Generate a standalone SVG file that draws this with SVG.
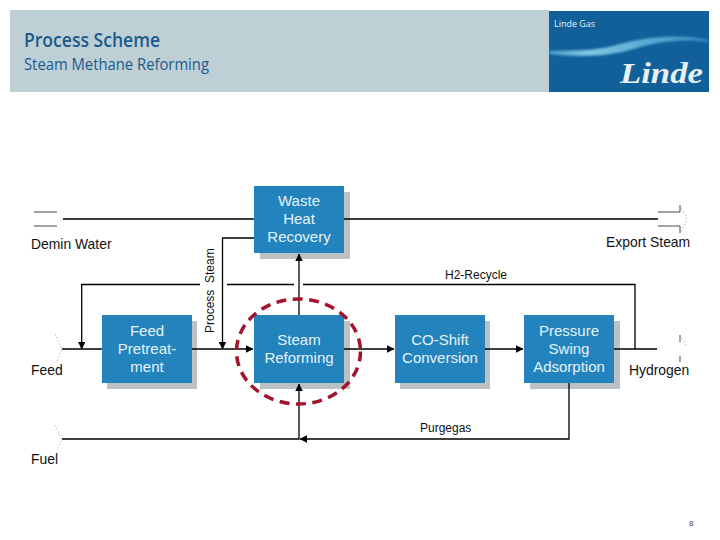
<svg xmlns="http://www.w3.org/2000/svg" width="720" height="540" viewBox="0 0 720 540">
<defs>
<linearGradient id="sw" x1="0" x2="1" y1="0" y2="0"><stop offset="0" stop-color="#5fb4dc" stop-opacity=".75"/><stop offset=".25" stop-color="#8fd2ec" stop-opacity=".9"/><stop offset=".6" stop-color="#6cbfe2" stop-opacity=".8"/><stop offset="1" stop-color="#3f96c8" stop-opacity=".8"/></linearGradient>
<marker id="a" viewBox="0 0 8 8" refX="7.5" refY="4" markerWidth="7.5" markerHeight="7.5" markerUnits="userSpaceOnUse" orient="auto"><path d="M0 0L8 4L0 8Z" fill="#000"/></marker>
<filter id="b" x="-10%" y="-100%" width="120%" height="300%"><feGaussianBlur stdDeviation="1.2"/></filter>
</defs>
<style>
.box{fill:#2384bd}
.sh{fill:#bcc1c5}
.bt{fill:#e6f2f8;font:15px "Liberation Sans",Arial,sans-serif;text-anchor:middle}
.lb{fill:#111;font:13.9px "Liberation Sans",Arial,sans-serif}
.sm{fill:#111;font:12px "Liberation Sans",Arial,sans-serif}
.l{fill:none;stroke:#000;stroke-width:1.3}
.s{fill:none;stroke:#333;stroke-width:.9}
.d{fill:none;stroke:#999;stroke-width:.7;stroke-dasharray:1.5 2}
</style>
<g id="header">
<rect x="10" y="10" width="539" height="82" fill="#bfcfd6"/>
<rect x="549" y="11" width="160" height="81" fill="#11609a"/>
<path d="M549 51C590 50 600 50 620 44C650 36 680 34 709 40L709 42C680 38 655 42 630 50C605 57 575 57 549 54Z" fill="url(#sw)" filter="url(#b)"/>
<text x="24" y="47" font-family="'Open Sans','Noto Sans',sans-serif" font-size="19" font-weight="600" fill="#1a5b8c" textLength="136" lengthAdjust="spacingAndGlyphs">Process Scheme</text>
<text x="24" y="70" font-family="'Open Sans','Noto Sans',sans-serif" font-size="15.5" fill="#1a5b8c" textLength="185" lengthAdjust="spacingAndGlyphs">Steam Methane Reforming</text>
<text x="554" y="27" font-family="'Open Sans','Noto Sans',sans-serif" font-size="9.5" fill="#e8f2f8" textLength="41" lengthAdjust="spacingAndGlyphs">Linde Gas</text>
<text x="620" y="83" font-family="'Liberation Serif',serif" font-size="29" font-weight="700" font-style="italic" fill="#e8f0f4" textLength="83" lengthAdjust="spacingAndGlyphs">Linde</text>
</g>
<g id="waste"><rect class="sh" x="260" y="192" width="90" height="67"/><rect class="box" x="254" y="186" width="90" height="67"/><text class="bt" x="299" y="206">Waste</text><text class="bt" x="299" y="224">Heat</text><text class="bt" x="299" y="242">Recovery</text></g>
<g id="feed"><rect class="sh" x="107" y="321" width="90" height="68"/><rect class="box" x="102" y="315" width="90" height="68"/><text class="bt" x="147" y="336">Feed</text><text class="bt" x="147" y="354">Pretreat-</text><text class="bt" x="147" y="372">ment</text></g>
<g id="steam"><rect class="sh" x="260" y="321" width="90" height="68"/><rect class="box" x="254" y="315" width="90" height="68"/><text class="bt" x="299" y="345">Steam</text><text class="bt" x="299" y="363">Reforming</text></g>
<g id="coshift"><rect class="sh" x="400" y="321" width="90" height="68"/><rect class="box" x="395" y="315" width="90" height="68"/><text class="bt" x="440" y="345">CO-Shift</text><text class="bt" x="440" y="363">Conversion</text></g>
<g id="psa"><rect class="sh" x="530" y="321" width="90" height="68"/><rect class="box" x="524" y="315" width="90" height="68"/><text class="bt" x="569" y="336">Pressure</text><text class="bt" x="569" y="354">Swing</text><text class="bt" x="569" y="372">Adsorption</text></g>
<g id="connectors">
<path class="l" d="M63 219H254M344 219H658"/>
<path class="l" d="M254 238H222.500V349" marker-end="url(#a)"/>
<path class="l" d="M200 284.500H81.700V349" marker-end="url(#a)"/>
<path class="l" d="M227 284.500H294M303 284.500H635V349"/>
<path class="l" d="M62 349H102"/>
<path class="l" d="M192 349H253" marker-end="url(#a)"/>
<path class="l" d="M344 349H394" marker-end="url(#a)"/>
<path class="l" d="M485 349H523" marker-end="url(#a)"/>
<path class="l" d="M614 349H657"/>
<path class="l" d="M299 315V254" marker-end="url(#a)"/>
<path class="l" d="M62 439H299V384" marker-end="url(#a)"/>
<path class="l" d="M569 383V439H300" marker-end="url(#a)"/>
<path class="s" d="M34 212H57M34 226H57"/>
<path class="s" d="M658 212H680V205M658 226H680V233"/>
<path class="d" d="M680 205L687 219L680 233"/>
<path class="d" d="M55 334L62 349L57 361"/>
<path class="d" d="M55 425L62 439L57 450"/>
<path class="s" d="M680 335V342M680 356V362"/>
<path class="d" d="M682 338L686 345"/>
</g>
<ellipse id="highlight" cx="298.500" cy="351.500" rx="62" ry="52.500" fill="none" stroke="#a3142c" stroke-width="3.500" stroke-dasharray="10 6.500"/>
<g id="labels">
<text class="lb" x="31" y="249">Demin Water</text>
<text class="lb" x="606" y="247">Export Steam</text>
<text class="lb" x="31" y="375">Feed</text>
<text class="lb" x="31" y="464">Fuel</text>
<text class="lb" x="629" y="375">Hydrogen</text>
<text class="sm" x="445" y="279">H2-Recycle</text>
<text class="sm" x="420" y="432">Purgegas</text>
<text class="sm" transform="translate(214 333) rotate(-90)" xml:space="preserve">Process  Steam</text>
<text x="689" y="526" font-family="'Liberation Sans',sans-serif" font-size="8" fill="#444">8</text>
</g>
</svg>
